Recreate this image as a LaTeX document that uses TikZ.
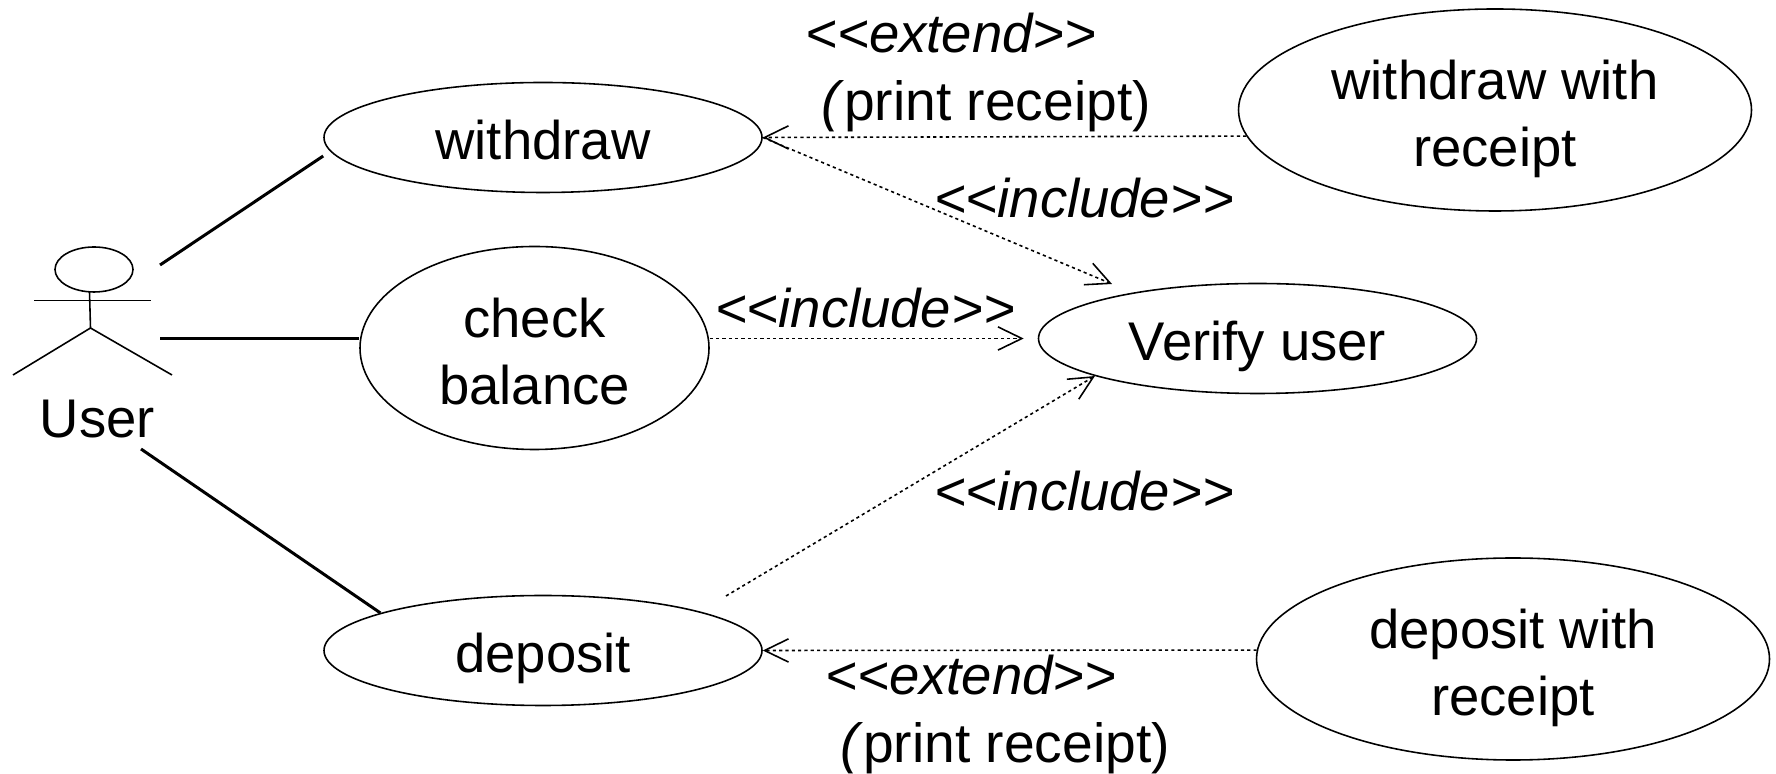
\documentclass[tikz,border=0pt]{standalone}
\usepackage{fontspec}
\setmainfont{Liberation Sans}
\usepackage{tikz}
\usetikzlibrary{shapes.geometric,arrows.meta}
\newcommand{\stereo}[1]{\textit{<{}<#1>{}>}}

\begin{document}
\begin{tikzpicture}
            \tikzstyle{usecase}=[ellipse, draw, inner sep=0pt, line width=.45pt, align=center, font=\fontsize{15.5}{18.9}\selectfont]
            \tikzstyle{small}=[usecase, minimum width=4.38cm, minimum height=1.1cm, text height=12.6pt, text depth=0pt]
            \tikzstyle{twoline}=[usecase, text height=32pt, text depth=0pt]
            \tikzstyle{big}=[twoline, minimum width=5.13cm, minimum height=2.02cm]
            \tikzstyle{lbl}=[anchor=base, inner sep=0pt, font=\fontsize{15.5}{18.9}\selectfont]
            \tikzstyle{assoc}=[line width=.85pt]
            \tikzstyle{dep}=[-{Straight Barb[length=6.8pt,width=6.6pt]}, line width=.45pt, dash pattern=on .9pt off .9pt]

            \useasboundingbox (0,0) rectangle (17.76,7.74);

            \node[small] (withdraw) at (5.43,6.365) {withdraw};
            \node[twoline, minimum width=3.49cm, minimum height=2.03cm] (balance) at (5.345,4.26) {check\\balance};
            \node[small] (deposit) at (5.43,1.235) {deposit};
            \node[small] (verify) at (12.575,4.355) {Verify user};
            \node[big] (wreceipt) at (14.95,6.64) {withdraw with\\receipt};
            \node[big] (dreceipt) at (15.13,1.15) {deposit with\\receipt};

            \node[ellipse, draw, inner sep=0pt, line width=.45pt, minimum width=.78cm, minimum height=.45cm] (head) at (.94,5.045) {};
            \coordinate (neck) at (.895,4.82);
            \coordinate (hip) at (.905,4.46);
            \coordinate (larm) at (.34,4.733);
            \coordinate (rarm) at (1.51,4.733);
            \coordinate (lfoot) at (.13,3.99);
            \coordinate (rfoot) at (1.72,3.99);
            \draw[line width=.45pt] (neck) -- (hip);
            \draw[line width=.45pt] (larm) -- (rarm);
            \draw[line width=.45pt] (lfoot) -- (hip) -- (rfoot);
            \node[lbl] (user) at (.975,3.36) {User};

            \coordinate (atop) at (1.6,5.09);
            \coordinate (amid) at (1.6,4.355);
            \coordinate (abot) at (1.41,3.25);
            \draw[assoc] (atop) -- ([yshift=-.185cm]withdraw.west);
            \draw[assoc] (amid) -- (balance.west |- amid);
            \draw[assoc] (abot) -- (deposit.167);

            \coordinate (vtop) at (11.12,4.9);
            \coordinate (dstart) at (7.26,1.78);
            \draw[dep] (wreceipt.186) -- (withdraw.east);
            \draw[dep] (withdraw.east) -- (vtop);
            \draw[dep, shorten >=.14cm] (balance.east |- verify.west) -- (verify.west);
            \draw[dep] (dstart) -- (verify.193);
            \draw[dep] (dreceipt.178) -- (deposit.east);

            \node[lbl] (extop) at (9.51,7.21) {\stereo{extend}};
            \node[lbl, font=\fontsize{15.7}{18.9}\selectfont] (prtop) at (9.86,6.53) {\textit{(}print receipt)};
            \node[lbl] (inca) at (10.84,5.56) {\stereo{include}};
            \node[lbl] (incb) at (8.65,4.46) {\stereo{include}};
            \node[lbl] (incc) at (10.84,2.63) {\stereo{include}};
            \node[lbl] (exbot) at (9.71,.79) {\stereo{extend}};
            \node[lbl, font=\fontsize{15.7}{18.9}\selectfont] (prbot) at (10.05,.12) {\textit{(}print receipt)};
        \end{tikzpicture}
\end{document}
